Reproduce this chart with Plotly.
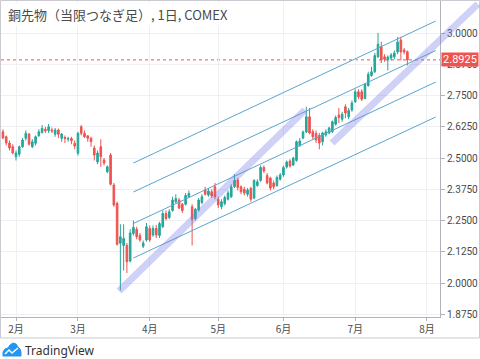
import plotly.graph_objects as go

# ---------------- data ----------------
title_text = "銅先物（当限つなぎ足）, 1日, COMEX"
month_tick_index = [4, 23, 45, 66, 86, 108, 130]
month_labels = ["2月", "3月", "4月", "5月", "6月", "7月", "8月"]
price_ticks = [1.875, 2.0, 2.125, 2.25, 2.375, 2.5, 2.625, 2.75, 2.875, 3.0]
last_price = 2.8925

opens = [2.605, 2.585, 2.560, 2.545, 2.505, 2.515, 2.545, 2.579, 2.596, 2.545,
         2.559, 2.589, 2.602, 2.615, 2.609, 2.612, 2.595, 2.612, 2.579, 2.582,
         2.575, 2.578, 2.559, 2.519, 2.625, 2.599, 2.589, 2.579, 2.540, 2.484,
         2.545, 2.492, 2.445, 2.512, 2.392, 2.318, 2.159, 2.150, 2.150, 2.088,
         2.198, 2.215, 2.190, 2.147, 2.172, 2.218, 2.192, 2.218, 2.190, 2.225,
         2.278, 2.262, 2.290, 2.325, 2.332, 2.315, 2.315, 2.345, 2.305, 2.258,
         2.292, 2.322, 2.372, 2.352, 2.365, 2.385, 2.335, 2.305, 2.318, 2.335,
         2.345, 2.385, 2.412, 2.385, 2.375, 2.355, 2.378, 2.340, 2.390, 2.410,
         2.462, 2.430, 2.420, 2.400, 2.390, 2.415, 2.432, 2.464, 2.488, 2.472,
         2.490, 2.550, 2.580, 2.604, 2.665, 2.605, 2.598, 2.590, 2.565, 2.592,
         2.600, 2.605, 2.635, 2.672, 2.655, 2.705, 2.665, 2.692, 2.725, 2.765,
         2.765, 2.738, 2.790, 2.830, 2.845, 2.905, 2.945, 2.905, 2.892, 2.900,
         2.905, 2.924, 2.972, 2.932, 2.925]
highs = [2.615, 2.590, 2.570, 2.555, 2.530, 2.550, 2.580, 2.610, 2.600, 2.575,
         2.590, 2.615, 2.632, 2.625, 2.636, 2.622, 2.620, 2.618, 2.600, 2.590,
         2.585, 2.585, 2.570, 2.605, 2.632, 2.610, 2.590, 2.585, 2.550, 2.530,
         2.575, 2.500, 2.470, 2.520, 2.400, 2.325, 2.235, 2.235, 2.160, 2.215,
         2.250, 2.225, 2.200, 2.170, 2.240, 2.230, 2.230, 2.232, 2.245, 2.290,
         2.290, 2.295, 2.345, 2.355, 2.340, 2.320, 2.360, 2.370, 2.315, 2.300,
         2.340, 2.355, 2.385, 2.380, 2.375, 2.400, 2.345, 2.335, 2.350, 2.370,
         2.395, 2.435, 2.420, 2.390, 2.385, 2.380, 2.385, 2.415, 2.415, 2.470,
         2.470, 2.440, 2.425, 2.410, 2.430, 2.440, 2.470, 2.490, 2.495, 2.505,
         2.570, 2.580, 2.610, 2.705, 2.700, 2.615, 2.610, 2.600, 2.605, 2.615,
         2.625, 2.650, 2.670, 2.700, 2.685, 2.715, 2.700, 2.730, 2.775, 2.775,
         2.775, 2.800, 2.845, 2.865, 2.920, 3.000, 2.965, 2.915, 2.910, 2.920,
         2.930, 2.984, 2.985, 2.940, 2.930]
lows = [2.575, 2.550, 2.530, 2.515, 2.490, 2.505, 2.540, 2.570, 2.550, 2.540,
        2.550, 2.585, 2.598, 2.600, 2.600, 2.600, 2.585, 2.580, 2.565, 2.560,
        2.565, 2.555, 2.535, 2.510, 2.590, 2.580, 2.565, 2.545, 2.490, 2.475,
        2.465, 2.470, 2.440, 2.390, 2.305, 2.150, 1.970, 2.050, 2.040, 2.082,
        2.190, 2.175, 2.165, 2.140, 2.165, 2.165, 2.185, 2.180, 2.180, 2.220,
        2.250, 2.255, 2.285, 2.320, 2.295, 2.280, 2.310, 2.340, 2.150, 2.250,
        2.285, 2.315, 2.350, 2.345, 2.340, 2.335, 2.300, 2.295, 2.310, 2.330,
        2.340, 2.380, 2.370, 2.355, 2.350, 2.345, 2.325, 2.335, 2.385, 2.405,
        2.440, 2.395, 2.370, 2.375, 2.385, 2.410, 2.425, 2.458, 2.462, 2.468,
        2.485, 2.545, 2.575, 2.600, 2.595, 2.575, 2.560, 2.535, 2.550, 2.585,
        2.595, 2.600, 2.630, 2.640, 2.645, 2.660, 2.655, 2.685, 2.720, 2.735,
        2.728, 2.735, 2.785, 2.825, 2.840, 2.900, 2.880, 2.885, 2.850, 2.890,
        2.895, 2.915, 2.890, 2.915, 2.870]
closes = [2.580, 2.560, 2.540, 2.520, 2.520, 2.545, 2.572, 2.599, 2.555, 2.565,
          2.585, 2.605, 2.619, 2.609, 2.625, 2.608, 2.612, 2.595, 2.596, 2.578,
          2.578, 2.569, 2.548, 2.599, 2.599, 2.585, 2.579, 2.565, 2.512, 2.520,
          2.505, 2.480, 2.465, 2.395, 2.312, 2.155, 2.185, 2.178, 2.085, 2.200,
          2.222, 2.185, 2.172, 2.160, 2.225, 2.172, 2.218, 2.192, 2.238, 2.278,
          2.258, 2.285, 2.332, 2.338, 2.300, 2.290, 2.350, 2.358, 2.255, 2.295,
          2.332, 2.345, 2.355, 2.368, 2.348, 2.345, 2.312, 2.325, 2.342, 2.360,
          2.385, 2.410, 2.382, 2.365, 2.360, 2.372, 2.335, 2.410, 2.405, 2.462,
          2.448, 2.400, 2.380, 2.385, 2.422, 2.432, 2.462, 2.484, 2.468, 2.500,
          2.565, 2.568, 2.604, 2.665, 2.600, 2.585, 2.572, 2.560, 2.600, 2.605,
          2.620, 2.645, 2.662, 2.662, 2.675, 2.680, 2.690, 2.720, 2.765, 2.745,
          2.735, 2.795, 2.835, 2.845, 2.910, 2.955, 2.892, 2.895, 2.904, 2.912,
          2.920, 2.964, 2.924, 2.924, 2.8925]
bar_index = list(range(len(closes)))

# parallel channel lines: (start index, start price, end index, end price)
channel_lines = [
    (40.0, 2.480, 132.7, 3.048),
    (40.0, 2.364, 132.7, 2.930),
    (40.0, 2.238, 132.7, 2.804),
    (40.0, 2.100, 132.7, 2.664),
]
# highlighted trend bands
trend_bands = [
    (35.6, 1.968, 92.6, 2.692),
    (100.9, 2.560, 145.6, 3.116),
]

X_RANGE = [-0.6, 134.0]
Y_RANGE = [1.864, 3.128]

UP = "#26a69a"
DOWN = "#ef5350"
CHAN = "#5aa5cf"
BAND = "rgba(118,122,228,0.35)"
GRID = "#eef0f4"
TXT = "#4a4a4a"

W, H = 480, 359
ML, MR, MT, MB = 1, 40, 1, 42
PW, PH = W - ML - MR, H - MT - MB


def data_to_paper(i, p):
    return ((i - X_RANGE[0]) / (X_RANGE[1] - X_RANGE[0]),
            (p - Y_RANGE[0]) / (Y_RANGE[1] - Y_RANGE[0]))


def px_to_paper(px, py):
    return ((px - ML) / PW, (H - MB - py) / PH)


fig = go.Figure()

fig.add_trace(go.Candlestick(
    x=bar_index, open=opens, high=highs, low=lows, close=closes,
    increasing=dict(line=dict(color=UP, width=1), fillcolor=UP),
    decreasing=dict(line=dict(color=DOWN, width=1), fillcolor=DOWN),
    whiskerwidth=0, showlegend=False, hoverinfo="skip",
))

for (x0, y0, x1, y1) in channel_lines:
    fig.add_trace(go.Scatter(x=[x0, x1], y=[y0, y1], mode="lines",
                             line=dict(color=CHAN, width=1),
                             showlegend=False, hoverinfo="skip"))

shapes = []
# last price dotted line
shapes.append(dict(type="line", xref="paper", yref="y", x0=0, x1=1,
                   y0=last_price, y1=last_price,
                   line=dict(color=DOWN, width=1, dash="dot"), layer="below"))
# trend bands (may extend beyond plot area)
for (x0, y0, x1, y1) in trend_bands:
    a = data_to_paper(x0, y0)
    b = data_to_paper(x1, y1)
    shapes.append(dict(type="line", xref="paper", yref="paper",
                       x0=a[0], y0=a[1], x1=b[0], y1=b[1],
                       line=dict(color=BAND, width=7), layer="above"))
# outer frame
f0 = px_to_paper(0.5, 338)
f1 = px_to_paper(479.5, 0.5)
shapes.append(dict(type="rect", xref="paper", yref="paper",
                   x0=f0[0], y0=f0[1], x1=f1[0], y1=f1[1],
                   line=dict(color="#c9cbd0", width=1), fillcolor="rgba(0,0,0,0)",
                   layer="below"))

# TradingView logo (cloud + zigzag)
cloud = [(3, 356), (3, 352), (5, 349), (8, 348), (10, 345), (13, 343),
         (16, 344), (18, 347), (20, 349), (21, 352), (21, 356)]
path = "M " + " L ".join("%f,%f" % px_to_paper(x, y) for x, y in cloud) + " Z"
shapes.append(dict(type="path", xref="paper", yref="paper", path=path,
                   fillcolor="#2196f3", line=dict(color="#2196f3", width=1)))
zig = [(5, 354), (9, 350), (12, 353), (18, 348)]
zpath = "M " + " L ".join("%f,%f" % px_to_paper(x, y) for x, y in zig)
shapes.append(dict(type="path", xref="paper", yref="paper", path=zpath,
                   line=dict(color="white", width=1.5)))

annotations = []
tx, ty = px_to_paper(6, 14)
annotations.append(dict(xref="paper", yref="paper", x=tx, y=ty,
                        xanchor="left", yanchor="middle", showarrow=False,
                        text=title_text, bgcolor="rgba(255,255,255,0.9)",
                        font=dict(size=13, color=TXT,
                                  family="Noto Sans CJK JP, sans-serif")))
annotations.append(dict(xref="paper", yref="y", x=1, y=last_price,
                        xanchor="left", yanchor="middle", showarrow=False,
                        text="2.8925", bgcolor=DOWN, width=36, height=13,
                        borderpad=0, xshift=1,
                        font=dict(size=11, color="white",
                                  family="Roboto, sans-serif")))
lx, ly = px_to_paper(23, 350)
annotations.append(dict(xref="paper", yref="paper", x=lx, y=ly,
                        xanchor="left", yanchor="middle", showarrow=False,
                        text="TradingView",
                        font=dict(size=12, color="#333333",
                                  family="Noto Sans, sans-serif")))

fig.update_layout(
    width=W, height=H,
    margin=dict(l=ML, r=MR, t=MT, b=MB),
    paper_bgcolor="white", plot_bgcolor="white",
    shapes=shapes, annotations=annotations,
    showlegend=False,
    xaxis=dict(range=X_RANGE, tickmode="array", tickvals=month_tick_index,
               ticktext=month_labels, showgrid=True, gridcolor=GRID,
               zeroline=False, showline=True, linecolor="#b0b3ba",
               ticks="outside", ticklen=3, tickcolor="#b0b3ba",
               tickfont=dict(size=10, color=TXT,
                             family="Noto Sans CJK JP, sans-serif"),
               rangeslider=dict(visible=False), fixedrange=True),
    yaxis=dict(range=Y_RANGE, side="right", tickmode="array",
               tickvals=price_ticks,
               ticktext=["%.4f" % v for v in price_ticks],
               showgrid=True, gridcolor=GRID, zeroline=False,
               showline=True, linecolor="#b0b3ba",
               ticks="outside", ticklen=4, tickcolor="#b0b3ba",
               tickfont=dict(size=10, color=TXT, family="Roboto, sans-serif"),
               fixedrange=True),
)

fig.write_html(
    "out.html",
    config={"displayModeBar": False},
    post_script="document.body.style.margin='0px';document.body.style.padding='0px';",
)
